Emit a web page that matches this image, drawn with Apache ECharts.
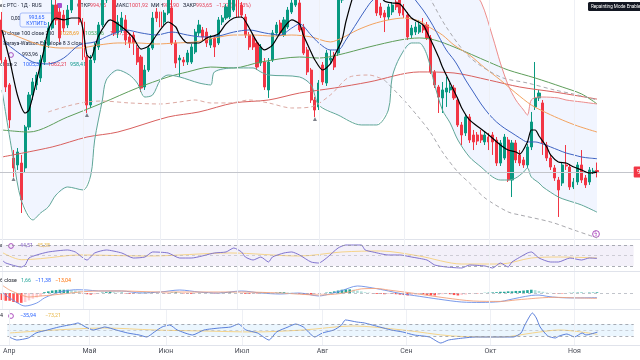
<!DOCTYPE html>
<html><head><meta charset="utf-8">
<script src="https://cdn.jsdelivr.net/npm/echarts@6/dist/echarts.min.js"></script>
<style>html,body{margin:0;padding:0;background:#fff;overflow:hidden}#c{width:640px;height:360px}</style>
</head><body><div id="c"></div>
<script>
// ---------- DATA ----------
const monthNames = ['Апр','Май','Июн','Июл','Авг','Сен','Окт','Ноя'];
const monthStartIdx = [0,21,41,61,82,104,126,148];

const opens = [1127.0,1091.9,1070.0,1005.9,999.8,1001.5,997.2,1033.1,1061.2,1070.0,
1076.1,1090.1,1105.0,1119.9,1140.1,1134.0,1131.3,1122.6,1135.7,1148.9,
1151.5,1125.2,1094.5,1052.4,1091.9,1103.3,1122.6,1144.5,1155.0,1148.9,
1115.6,1118.2,1127.0,1112.1,1113.8,1102.4,1094.5,1068.2,1083.1,1102.4,
1134.0,1134.0,1125.2,1133.1,1137.5,1106.8,1091.9,1091.9,1090.1,1090.1,
1098.9,1115.6,1118.2,1116.4,1105.0,1111.2,1106.8,1125.2,1128.7,1129.6,
1135.7,1147.1,1140.1,1129.6,1113.8,1111.2,1106.8,1089.2,1090.1,1065.6,
1091.9,1115.6,1124.3,1113.8,1120.8,1134.0,1140.1,1141.9,1120.8,1100.7,
1083.1,1056.8,1050.7,1087.5,1071.7,1091.9,1096.3,1098.0,1144.5,1162.0,
1170.8,1166.4,1179.6,1170.8,1184.0,1175.2,1162.0,1148.9,1138.4,1133.1,
1129.6,1134.0,1142.7,1146.3,1138.4,1131.3,1113.8,1116.4,1116.4,1122.6,
1122.6,1111.2,1081.4,1068.2,1058.6,1063.8,1065.6,1067.3,1056.8,1034.9,
1027.9,1041.9,1026.1,1026.1,1026.1,1020.0,1024.3,1026.1,1021.7,1001.5,
1005.9,1021.7,986.6,1019.1,1008.6,1004.2,999.8,1015.6,1050.7,1058.6,
1054.2,1017.3,1005.9,997.2,986.6,984.0,999.8,998.0,980.5,984.9,
999.8,988.4,984.9,993.6,994.95];
const closes = [1091.9,1068.2,1039.3,997.2,1011.2,969.1,1033.1,1061.2,1072.6,1078.7,
1091.9,1105.0,1119.9,1140.1,1127.0,1111.2,1119.9,1135.7,1148.9,1153.3,
1125.2,1094.5,1052.4,1091.9,1103.3,1122.6,1144.5,1155.0,1148.9,1115.6,
1125.2,1128.7,1109.4,1106.8,1106.8,1090.1,1067.3,1083.1,1102.4,1128.7,
1128.7,1120.8,1133.1,1146.3,1106.8,1089.2,1093.6,1090.1,1098.0,1103.3,
1116.4,1122.6,1112.1,1106.8,1111.2,1103.3,1127.0,1128.7,1138.4,1144.5,
1147.1,1129.6,1131.3,1113.8,1103.3,1103.3,1085.7,1103.3,1068.2,1090.1,
1115.6,1122.6,1115.6,1127.0,1135.7,1141.9,1147.1,1118.2,1098.0,1081.4,
1056.8,1048.0,1071.7,1072.6,1098.0,1093.6,1085.7,1144.5,1162.0,1170.8,
1166.4,1179.6,1170.8,1184.0,1175.2,1162.0,1148.9,1133.1,1131.3,1129.6,
1138.4,1140.1,1138.4,1133.1,1131.3,1112.1,1119.9,1120.8,1122.6,1118.2,
1111.2,1081.4,1070.0,1059.4,1065.6,1067.3,1068.2,1058.6,1034.9,1026.1,
1041.9,1021.7,1020.0,1020.8,1021.7,1026.1,1020.0,1020.0,1001.5,1019.1,
1024.3,986.6,1019.1,1004.2,1001.5,999.8,1015.6,1037.5,1058.6,1062.9,
1019.1,1005.9,998.0,988.4,977.9,999.8,998.9,980.5,984.9,999.8,
986.6,982.3,995.4,994.5,993.65];
const lows = [1089.2,1063.8,1032.2,989.3,995.4,957.7,993.6,1030.5,1056.8,1065.6,
1072.6,1087.5,1102.4,1118.2,1122.6,1107.7,1116.4,1119.9,1133.1,1144.5,
1122.6,1091.9,1045.4,1049.8,1089.2,1100.7,1120.8,1141.9,1144.5,1112.9,
1111.2,1115.6,1105.0,1102.4,1096.3,1087.5,1063.8,1065.6,1081.4,1100.7,
1125.2,1118.2,1122.6,1131.3,1105.0,1084.9,1077.0,1086.6,1087.5,1088.4,
1097.1,1112.9,1109.4,1103.3,1102.4,1094.5,1105.0,1122.6,1127.0,1127.8,
1134.0,1127.0,1128.7,1111.2,1100.7,1100.7,1083.1,1086.6,1065.6,1058.6,
1090.1,1112.9,1112.9,1112.1,1119.1,1132.2,1138.4,1116.4,1096.3,1078.7,
1054.2,1041.9,1048.0,1070.0,1069.1,1089.2,1083.1,1095.4,1141.9,1157.7,
1162.0,1163.8,1166.4,1168.2,1170.8,1157.7,1144.5,1130.5,1128.7,1116.4,
1127.0,1131.3,1135.7,1130.5,1128.7,1109.4,1111.2,1113.8,1114.7,1115.6,
1109.4,1079.6,1067.3,1045.4,1045.4,1050.7,1062.9,1056.8,1033.1,1017.3,
1025.2,1019.1,1012.9,1017.3,1019.1,1017.3,1012.9,1008.6,998.9,998.9,
1004.2,984.9,971.7,1001.5,998.9,997.2,997.2,1012.9,1048.0,1055.9,
1008.6,1003.3,995.4,985.8,954.2,981.4,995.4,977.9,978.7,982.3,
984.0,979.6,982.3,991.9,988.90];
const highs = [1134.0,1094.5,1071.7,1012.9,1014.7,1008.6,1034.9,1063.8,1076.1,1081.4,
1096.3,1109.4,1125.2,1147.1,1144.5,1137.5,1135.7,1140.1,1153.3,1157.7,
1155.0,1128.7,1096.3,1096.3,1107.7,1125.2,1148.9,1160.3,1160.3,1151.5,
1131.3,1134.0,1131.3,1115.6,1116.4,1105.0,1096.3,1087.5,1105.0,1134.0,
1137.5,1137.5,1135.7,1149.8,1144.5,1109.4,1096.3,1094.5,1100.7,1105.9,
1119.1,1127.0,1120.8,1119.9,1113.8,1113.8,1129.6,1131.3,1141.0,1148.9,
1151.5,1151.5,1142.7,1132.2,1116.4,1113.8,1109.4,1105.9,1093.6,1093.6,
1118.2,1125.2,1127.0,1129.6,1138.4,1148.9,1153.3,1146.3,1123.5,1103.3,
1084.9,1059.4,1074.3,1090.1,1100.7,1100.7,1098.9,1148.9,1166.4,1175.2,
1177.8,1184.0,1184.0,1188.4,1188.4,1179.6,1166.4,1153.3,1141.9,1135.7,
1141.0,1142.7,1146.3,1149.8,1141.0,1134.0,1122.6,1125.2,1127.0,1128.7,
1125.2,1113.8,1083.1,1070.0,1072.6,1077.0,1071.7,1070.0,1059.4,1037.5,
1044.5,1044.5,1030.5,1028.7,1030.5,1028.7,1027.9,1028.7,1024.3,1021.7,
1027.0,1024.3,1021.7,1021.7,1012.9,1006.8,1018.2,1046.3,1090.1,1065.6,
1056.8,1020.0,1008.6,999.8,989.3,1002.4,1017.3,1000.7,988.4,1002.4,
1012.9,991.0,998.0,997.2,1001.92];

const lastClose = 993.65;

const fastLine = [[0,1118.2],[2,1091.9],[4,1061.2],[6,1045.4],[7,1048.0],[9,1074.3],[11,1102.4],[12,1118.2],[14,1128.7],[16,1127.0],[18,1128.7],[20,1128.7],[21,1118.2],[22,1096.3],[23,1093.6],[24,1102.4],[25,1112.9],[27,1124.3],[28,1127.0],[30,1123.5],[32,1118.2],[34,1111.2],[36,1101.5],[38,1104.2],[40,1113.8],[42,1122.6],[43,1125.2],[45,1120.8],[46,1113.8],[48,1106.8],[51,1106.8],[53,1111.2],[56,1114.7],[58,1123.5],[60,1128.7],[62,1129.6],[64,1119.9],[66,1107.7],[68,1100.7],[70,1105.0],[72,1115.6],[75,1127.0],[77,1123.5],[78,1113.8],[80,1098.9],[81,1091.9],[83,1083.1],[85,1088.4],[86,1095.4],[88,1109.4],[89,1125.2],[91,1148.9],[93,1162.0],[95,1162.0],[97,1153.3],[99,1143.6],[101,1141.9],[103,1141.0],[106,1128.7],[109,1122.6],[110,1116.4],[113,1094.5],[114,1085.7],[116,1071.7],[118,1057.7],[119,1049.8],[121,1039.3],[124,1031.4],[126,1026.1],[129,1017.3],[131,1012.9],[133,1011.2],[134,1009.4],[136,1020.0],[137,1030.5],[138,1030.5],[139,1025.2],[141,1015.6],[142,1008.6],[144,1002.4],[146,1001.5],[148,998.0],[150,995.4],[152,992.8],[154,993.6]];

const bbBasis = [[0,1109.4],[4,1098.9],[8,1090.1],[12,1088.4],[16,1093.6],[20,1105.0],[24,1107.7],[28,1113.8],[32,1118.2],[36,1115.6],[40,1113.8],[44,1116.4],[48,1113.8],[52,1112.1],[56,1112.9],[60,1116.4],[64,1118.2],[68,1115.6],[72,1113.8],[75,1119.9],[77,1123.5],[80,1113.8],[82,1106.8],[85,1100.7],[87,1100.7],[89,1109.4],[92,1125.2],[94,1135.7],[96,1144.5],[100,1153.3],[104,1155.0],[106,1149.8],[107,1144.5],[109,1135.7],[111,1125.2],[113,1112.9],[115,1100.7],[117,1091.9],[118,1086.6],[120,1074.3],[122,1063.8],[124,1053.3],[126,1044.5],[128,1037.5],[130,1032.2],[132,1027.9],[134,1023.5],[136,1020.0],[138,1020.0],[140,1018.2],[142,1015.6],[144,1012.9],[146,1010.3],[148,1008.6],[150,1006.8],[152,1005.9],[154,1005.31]];

const bbIdx = [0,3,5,8,10,12,14,17,21,23,24,26,27,30,33,35,37,39,41,43,46,51,54,55,60,65,67,69,77,80,82,87,93,97,100,101,103,106,108,110,112,114,116,118,121,124,127,129,131,133,135,136,137,139,140,144,146,150,154];
const bbUpper = [1179.6,1170.8,1162.0,1157.7,1166.4,1179.6,1192.7,1197.1,1184.0,1179.6,1179.6,1179.6,1179.6,1175.2,1170.8,1170.8,1166.4,1166.4,1162.0,1166.4,1162.0,1153.3,1153.3,1153.3,1157.7,1157.7,1153.3,1148.9,1153.3,1157.7,1162.0,1179.6,1197.1,1197.1,1192.7,1188.4,1188.4,1184.0,1184.0,1184.0,1188.4,1192.7,1188.4,1175.2,1155.0,1142.7,1112.1,1089.2,1070.0,1056.8,1048.0,1043.6,1056.8,1059.4,1059.4,1058.6,1056.8,1055.1,1053.3];
const bbLower = [1065.6,1004.2,969.1,951.6,957.7,963.0,973.5,980.5,977.9,991.0,1021.7,1056.8,1074.3,1083.1,1078.7,1071.7,1059.4,1061.2,1074.3,1078.7,1077.0,1071.7,1070.0,1081.4,1084.9,1084.9,1081.4,1078.7,1077.0,1070.0,1052.4,1043.6,1034.9,1034.9,1048.0,1077.0,1094.5,1106.8,1106.8,1096.3,1070.0,1048.0,1036.6,1021.7,1006.8,998.0,989.3,986.6,986.6,988.4,993.6,997.2,989.3,984.0,980.5,971.7,969.1,964.7,958.41];

const ma50 = [[0,1118.2],[5,1111.2],[10,1105.0],[15,1102.4],[20,1102.4],[25,1105.0],[30,1106.8],[35,1106.8],[40,1105.9],[45,1106.8],[50,1107.7],[55,1111.2],[60,1113.8],[65,1113.8],[70,1112.9],[75,1113.8],[80,1112.1],[85,1107.7],[88,1111.2],[92,1118.2],[96,1123.5],[100,1127.0],[104,1128.7],[108,1126.1],[111,1119.9],[114,1113.8],[117,1105.0],[121,1096.3],[125,1084.9],[129,1074.3],[133,1062.9],[137,1052.4],[141,1045.4],[145,1039.3],[149,1034.0],[154,1028.69]];
const ma100 = [[0,1030.5],[7,1028.7],[17,1041.9],[26,1054.2],[35,1067.3],[43,1077.0],[48,1081.4],[54,1085.7],[60,1084.9],[67,1090.1],[77,1094.5],[82,1093.6],[87,1096.3],[95,1103.3],[103,1109.4],[108,1111.2],[112,1109.4],[117,1103.3],[126,1090.1],[131,1083.1],[138,1076.1],[145,1068.2],[150,1062.1],[154,1053.46]];
const ma200 = [[0,1006.8],[13,1015.6],[22,1024.3],[30,1028.7],[43,1041.9],[51,1046.3],[60,1054.2],[69,1056.8],[77,1062.9],[86,1067.3],[95,1072.6],[108,1081.4],[117,1080.5],[126,1074.3],[134,1068.2],[143,1063.8],[154,1057.58]];

const nwLowerA = [[12,1046.3],[17,1051.5],[22,1055.1],[26,1055.9],[33,1054.2],[41,1053.3],[46,1055.1],[50,1056.8],[54,1054.2],[59,1054.2],[64,1056.8],[69,1054.2],[75,1049.8],[80,1050.7],[85,1061.2],[90,1077.0],[95,1078.7],[99,1074.3]];
const nwLowerB = [[99,1074.3],[104,1056.8],[108,1041.0],[111,1027.9],[114,1011.2],[118,993.6],[121,984.0],[125,970.9],[131,958.6],[134,956.0],[142,949.8],[148,942.8],[154,935.8]];
const nwUpper = [[100,1197.1],[104,1179.6],[107,1166.4],[111,1144.5],[115,1120.8],[121,1094.5],[129,1077.0],[136,1071.7],[143,1065.6],[149,1061.2],[154,1056.8]];

const markerIdx = [3,22,81];
const markerVal = [987.5,1043.6,1040.1];

const rsi = [[0,41.4],[1,35.7],[5,28.1],[6,31.9],[7,45.2],[9,51.0],[12,56.7],[17,60.5],[19,56.7],[22,41.4],[24,54.8],[27,60.5],[31,54.8],[34,45.2],[37,47.1],[39,56.7],[43,54.8],[46,45.2],[49,45.2],[55,54.8],[58,56.7],[60,64.3],[62,56.7],[63,47.1],[65,41.4],[67,47.1],[69,37.6],[70,47.1],[73,54.8],[75,56.7],[77,51.0],[80,37.6],[82,35.7],[84,45.2],[87,64.3],[89,70.0],[93,70.0],[94,60.5],[96,56.7],[100,51.0],[103,51.0],[106,47.1],[110,41.4],[112,31.9],[115,28.1],[119,26.2],[121,31.9],[125,30.0],[127,26.2],[129,35.7],[131,28.1],[132,37.6],[136,54.8],[137,56.7],[139,45.2],[142,37.6],[144,37.6],[147,45.2],[150,41.4],[152,45.2],[154,44.51]];
const rsiMa = [[0,56.0],[5,42.0],[10,44.0],[20,51.0],[38,49.0],[59,54.8],[77,49.0],[88,56.7],[98,58.6],[108,49.0],[119,33.8],[129,33.8],[137,45.2],[144,47.1],[154,45.38]];

const macdLine = [[0,2.4],[2,-12.2],[5,-29.3],[6,-31.7],[9,-24.4],[11,-12.0],[13,-4.0],[15,2.4],[17,6.0],[19,8.0],[22,7.3],[25,5.0],[31,4.9],[36,0],[41,2.4],[46,7.3],[51,2.4],[56,0],[62,4.9],[67,0],[72,-2.4],[77,0],[82,-7.3],[85,-2.0],[88,6.0],[92,17.1],[96,12.2],[100,5.0],[103,-1.0],[108,-8.0],[113,-15.0],[119,-22.0],[124,-23.0],[129,-21.0],[131,-17.0],[134,-11.0],[137,-6.0],[139,-5.0],[141,-8.0],[144,-11.0],[148,-12.0],[154,-11.38]];
const macdSignal = [[0,19.5],[2,7.3],[5,-4.9],[7,-9.8],[10,-7.3],[13,-5.0],[15,-3.0],[18,0],[20,2.4],[25,4.9],[31,4.9],[41,2.4],[51,2.4],[62,2.4],[72,0],[82,-4.9],[86,-3.0],[89,1.0],[93,10.0],[97,11.0],[100,7.3],[106,0],[115,-12.2],[122,-19.5],[129,-20.5],[133,-17.0],[136,-14.5],[140,-11.5],[143,-10.5],[147,-11.5],[154,-13.04]];
const macdHist = [-17,-19,-19,-22,-24,-24,-22,-18,-14,-11,-8,
2,4,6,7,8,8,8,7,6,4,
-1,-3,-4,-3,-1,1,2,3,2,1,
1,-1,-2,-2,-1,0.5,1,1,2,1,0.5,-1,-1,1,2,1,-1,-2,-2,-1,0.5,1,1,0.5,-1,-1,1,2,2,1,
0.5,-1,-2,-2,-1,-1,1,1,0.5,-1,1,2,2,1,0.5,-1,-2,-3,-4,-4,-3,-2,-1,1,
2,4,6,8,9,9,8,6,4,2,1,
-1,-2,-2,-3,-2,-2,-3,-4,-5,-6,-5,-4,-3,-3,-5,-6,-6,-5,-3,-2,-3,-5,-6,-5,-4,-2,-1,-1,-0.5,0.5,1,1.5,
2,3,3,4,4,5,5,6,7,8,7,5,3,
1,0.5,-1,-1,-1,-0.5,0.5,1,1,1,0.5,1,1,1.66];

const cci = [[0,-117],[2,-167],[5,-133],[7,-50],[10,0],[13,50],[17,100],[18,117],[20,50],[22,0],[24,33],[25,50],[28,0],[31,-50],[34,-83],[36,-117],[38,-33],[40,50],[42,83],[44,0],[48,-83],[51,0],[55,33],[58,50],[60,100],[62,0],[65,-50],[68,-167],[70,-33],[73,50],[75,100],[77,50],[80,-117],[82,-50],[85,0],[87,83],[88,167],[91,133],[93,117],[97,50],[100,0],[103,-33],[106,-83],[110,-117],[113,-217],[115,-167],[119,-133],[122,-117],[126,-117],[129,-117],[132,-117],[134,-50],[135,83],[137,283],[138,200],[139,50],[141,-100],[143,-133],[144,-100],[146,-67],[148,-117],[150,-50],[151,-83],[154,-35.94]];
const cciMa = [[0,-50],[12,0],[25,33],[38,0],[51,-17],[64,-33],[77,0],[90,67],[103,0],[116,-100],[129,-117],[137,-50],[144,0],[154,-73.21]];

// ---------- LAYOUT ----------
const N_SLOTS = 164;
const SLOT_W = 3.864;
const GW = N_SLOTS * SLOT_W;
const cats = Array.from({length: N_SLOTS}, (_, i) => String(i));
const FONT = 'Roboto, "Noto Sans", sans-serif';
const UP = '#089981', DN = '#f23645', DARK = '#131722';
const FS = 5.3;

function T(text, x, y, fill, size, align) {
  return {type:'text', x:x, y:y, silent:true,
    style:{text:text, fill:fill||DARK, font:(size||FS)+'px '+FONT, verticalAlign:'middle', align:align||'left'}};
}
function line(data, color, xi, opts) {
  return Object.assign({type:'line', xAxisIndex:xi, yAxisIndex:xi, data:data, showSymbol:false, symbol:'none',
    silent:true, smooth:0.3, z:3, lineStyle:{color:color, width:1}}, opts||{});
}
const vGrid = () => ({symbol:'none', silent:true, label:{show:false},
  lineStyle:{color:'#eef0f5', width:1, type:'solid'}, data: monthStartIdx.map(i => ({xAxis:i}))});

const chart = echarts.init(document.getElementById('c'), null, {renderer:'canvas'});
const option = {
  animation:false,
  backgroundColor:'#ffffff',
  grid:[
    {left:0, top:0, width:GW, height:240},
    {left:0, top:240, width:GW, height:31},
    {left:0, top:272, width:GW, height:37},
    {left:0, top:310, width:GW, height:35}
  ],
  xAxis:[0,1,2,3].map(i => ({type:'category', gridIndex:i, data:cats, boundaryGap:true,
    axisLine:{show:false}, axisTick:{show:false}, splitLine:{show:false},
    axisLabel: i===3 ? {show:true, margin:3, fontSize:7, color:'#4a4d57', fontFamily:FONT,
      interval:(idx)=>monthStartIdx.indexOf(idx)>=0,
      formatter:(v, idx)=>{const k=monthStartIdx.indexOf(idx); return k>=0?monthNames[k]:'';}} : {show:false}
  })),
  yAxis:[
    {type:'value', gridIndex:0, min:934, max:1144.5, show:false},
    {type:'value', gridIndex:1, min:20.5, max:79.5, show:false},
    {type:'value', gridIndex:2, min:-39, max:51.2, show:false},
    {type:'value', gridIndex:3, min:-250, max:333, show:false}
  ],
  series:[
    {type:'custom', xAxisIndex:0, yAxisIndex:0, silent:true, z:1, data:[[0,1000]],
      renderItem:function(params, api){
        const pts=[];
        for (let i=0;i<bbIdx.length;i++) pts.push(api.coord([bbIdx[i], bbUpper[i]]));
        for (let i=bbIdx.length-1;i>=0;i--) pts.push(api.coord([bbIdx[i], bbLower[i]]));
        return {type:'polygon', shape:{points:pts}, style:{fill:'rgba(41,98,255,0.065)'}};
      }},
    line(ma200, '#d9605e', 0, {markLine: vGrid()}),
    line(ma100, '#5e9e5a', 0),
    line(ma50, '#f3a35f', 0),
    line(nwLowerA, '#dca9a2', 0, {lineStyle:{color:'#dca9a2', width:1, type:[4,3]}}),
    line(nwLowerB, '#a8a8ad', 0, {lineStyle:{color:'#a8a8ad', width:1, type:[4,3]}}),
    line(nwUpper, '#a8a8ad', 0, {lineStyle:{color:'#a8a8ad', width:1, type:[4,3]}}),
    line(bbIdx.map((x,i)=>[x,bbUpper[i]]), '#ec8c8c', 0),
    line(bbIdx.map((x,i)=>[x,bbLower[i]]), '#5fa698', 0),
    {type:'candlestick', xAxisIndex:0, yAxisIndex:0, z:2, silent:true, barWidth:2.6,
      data: opens.map((o,i)=>[o, closes[i], lows[i], highs[i]]),
      itemStyle:{color:UP, color0:DN, borderColor:UP, borderColor0:DN, borderWidth:1},
      markLine:{symbol:'none', silent:true,
        data:[{yAxis:lastClose, lineStyle:{color:'#c3c5cb', width:1, type:'solid'},
          label:{show:true, position:'end', distance:0, formatter:'993,65', color:'#fff',
            backgroundColor:DN, padding:[2,3], fontSize:7, fontFamily:FONT, borderRadius:1}}]}},
    line(bbBasis, '#3e63c2', 0, {z:4}),
    line(fastLine, '#000000', 0, {z:5, smooth:0.25, lineStyle:{color:'#000', width:1.2}}),
    {type:'scatter', xAxisIndex:0, yAxisIndex:0, silent:true, z:5, symbol:'triangle', symbolSize:4,
      itemStyle:{color:'#5d606b'}, data: markerIdx.map((x,i)=>[x, markerVal[i]])},

    // RSI
    line(rsi, '#7467c9', 1, {smooth:0.2, lineStyle:{color:'#7467c9', width:0.9},
      markArea:{silent:true, itemStyle:{color:'rgba(126,87,194,0.09)'}, data:[[{yAxis:30},{yAxis:70}]]},
      markLine:{symbol:'none', silent:true, label:{show:false},
        data:[{yAxis:70, lineStyle:{color:'#9598a1', type:[3,3], width:0.8}},
              {yAxis:50, lineStyle:{color:'rgba(149,152,161,0.5)', type:[3,3], width:0.8}},
              {yAxis:30, lineStyle:{color:'#9598a1', type:[3,3], width:0.8}}]}}),
    line(rsiMa, '#f6d48a', 1, {z:2, markLine: vGrid()}),

    // MACD
    {type:'bar', xAxisIndex:2, yAxisIndex:2, silent:true, barWidth:2.6, data:macdHist,
      itemStyle:{color:function(p){const v=macdHist[p.dataIndex]; const pv=p.dataIndex>0?macdHist[p.dataIndex-1]:v;
        if (v>=0) return v>=pv?'#26a69a':'#b2dfdb'; return v<=pv?'#ff5252':'#ffcdd2';}},
      markLine:{symbol:'none', silent:true, label:{show:false},
        data:[{yAxis:0, lineStyle:{color:'#b2b5be', type:[3,3], width:0.8}}]}},
    line(macdLine, '#6b8fe8', 2, {smooth:0.3, lineStyle:{color:'#6b8fe8', width:0.9}}),
    line(macdSignal, '#f3a07a', 2, {smooth:0.3, lineStyle:{color:'#f3a07a', width:0.9}, markLine: vGrid()}),

    // CCI
    line(cci, '#4a72d6', 3, {smooth:0.2, lineStyle:{color:'#4a72d6', width:0.9},
      markArea:{silent:true, itemStyle:{color:'rgba(33,150,243,0.09)'}, data:[[{yAxis:-100},{yAxis:100}]]},
      markLine:{symbol:'none', silent:true, label:{show:false},
        data:[{yAxis:100, lineStyle:{color:'#9598a1', type:[3,3], width:0.8}},
              {yAxis:0, lineStyle:{color:'rgba(149,152,161,0.5)', type:[3,3], width:0.8}},
              {yAxis:-100, lineStyle:{color:'#9598a1', type:[3,3], width:0.8}}]}}),
    line(cciMa, '#f6d48a', 3, {z:2, markLine: vGrid()})
  ],
  graphic:[
    {type:'line', silent:true, shape:{x1:0,y1:239.5,x2:640,y2:239.5}, style:{stroke:'#e0e3eb', lineWidth:1}},
    {type:'line', silent:true, shape:{x1:0,y1:271.5,x2:640,y2:271.5}, style:{stroke:'#e0e3eb', lineWidth:1}},
    {type:'line', silent:true, shape:{x1:0,y1:309.5,x2:640,y2:309.5}, style:{stroke:'#e0e3eb', lineWidth:1}},
    {type:'line', silent:true, shape:{x1:0,y1:345.5,x2:640,y2:345.5}, style:{stroke:'#e0e3eb', lineWidth:1}},
    T('ес РТС · 1Д · RUS', 0, 6),
    {type:'rect', silent:true, shape:{x:57,y:3,width:5,height:5,r:1}, style:{fill:'#b04fc9'}},
    T('ОТКР', 77, 6), T('994,95', 90, 6, DN), T('МАКС', 114, 6), T('1001,92', 129, 6, DN),
    T('МИН', 151, 6), T('988,90', 163, 6, DN), T('ЗАКР', 183, 6), T('993,65', 196, 6, DN),
    T('−1,27 (−0,13%)', 216, 6, DN),
    T('0,00', 11, 19, DARK, 5),
    {type:'rect', silent:true, shape:{x:20,y:13,width:33,height:14,r:2}, style:{fill:'#fff', stroke:'#8fa9f5', lineWidth:0.7}},
    T('993,65', 36.5, 17.3, '#2962ff', 5.2, 'center'),
    T('КУПИТЬ', 36.5, 23.2, '#2962ff', 5.2, 'center'),
    T('50 close 100 close 200', 0, 34), T('1028,69', 60, 34, '#ff9800'), T('1053,46', 85, 34, '#4caf50'), T('1057,58', 110, 34, '#f23645'),
    T('Nadaraya-Watson Envelope 8 3 close', -3, 44),
    T('e', 0, 55), {type:'circle', silent:true, shape:{cx:11,cy:55,r:2.4}, style:{fill:'#fff', stroke:'#9c27b0', lineWidth:0.8}},
    T('993,96', 22, 55),
    T('close 2', 0, 65), T('1005,31', 23, 65, '#2962ff'), T('1062,21', 48, 65, '#f23645'), T('958,41', 70, 65, '#089981'),
    T('e', 0, 246), {type:'circle', silent:true, shape:{cx:11,cy:246,r:2.4}, style:{fill:'#fff', stroke:'#9c27b0', lineWidth:0.8}},
    T('44,51', 20, 246, '#7e57c2'), T('45,38', 37, 246, '#e8b84a'),
    T('6 close', 0, 281), T('1,66', 21, 281, '#26a69a'), T('−11,38', 35, 281, '#2962ff'), T('−13,04', 55, 281, '#ff6d00'),
    T('4', 0, 316), {type:'circle', silent:true, shape:{cx:11,cy:316,r:2.4}, style:{fill:'#fff', stroke:'#9c27b0', lineWidth:0.8}},
    T('−35,94', 20, 316, '#2962ff'), T('−73,21', 45, 316, '#e8b84a'),
    {type:'rect', silent:true, shape:{x:588,y:2,width:56,height:9,r:1.5}, style:{fill:'#131722'}},
    T('Repainting Mode Enabled', 591, 6.6, '#ffffff', 4.6),
    {type:'circle', silent:true, shape:{cx:596,cy:234,r:3.4}, style:{fill:'#fff', stroke:'#9c27b0', lineWidth:0.8}},
    T('ϟ', 594.3, 234, '#9c27b0', 5)
  ]
};
chart.setOption(option);
</script></body></html>
